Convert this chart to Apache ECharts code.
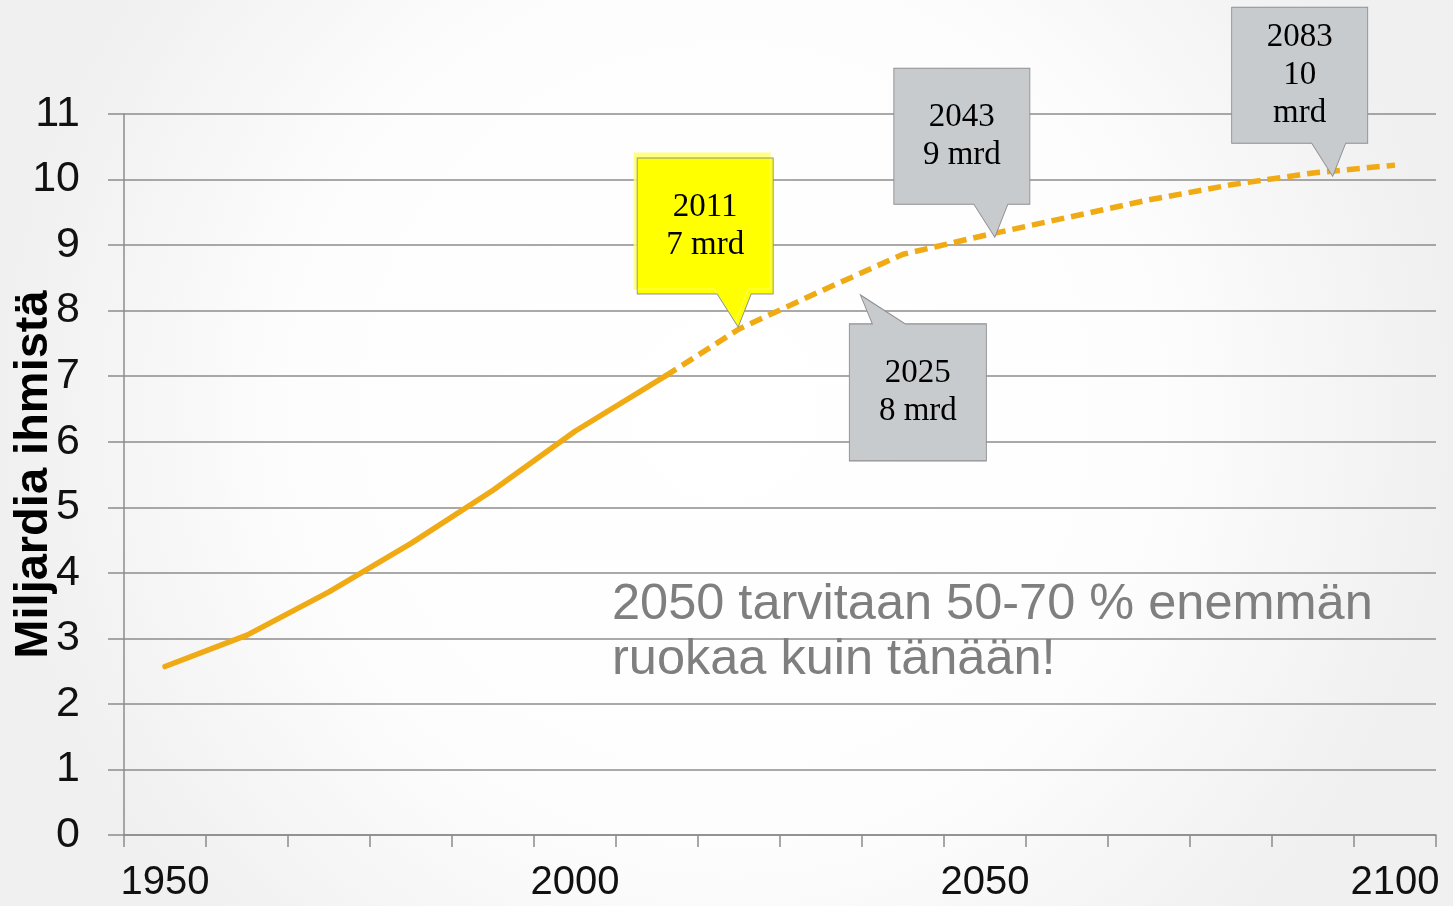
<!DOCTYPE html>
<html>
<head>
<meta charset="utf-8">
<script src="https://cdn.jsdelivr.net/npm/echarts@6/dist/echarts.min.js"></script>
<style>
html,body{margin:0;padding:0;width:1453px;height:906px;overflow:hidden;background:#fff;}
#chart{width:1453px;height:906px;}
</style>
</head>
<body>
<div id="chart"></div>
<script>
// ---- data ----
const histYears = [1950, 1960, 1970, 1980, 1990, 2000, 2011];
const histValues = [2.57, 3.05, 3.71, 4.45, 5.26, 6.16, 7.0];
const projYears = [2011, 2020, 2030, 2040, 2050, 2060, 2070, 2080, 2090, 2100];
const projValues = [7.0, 7.72, 8.3, 8.86, 9.15, 9.42, 9.69, 9.92, 10.1, 10.22];
const xTickValues = [1945, 1955, 1965, 1975, 1985, 1995, 2005, 2015, 2025, 2035, 2045, 2055, 2065, 2075, 2085, 2095, 2105];
const xLabelValues = [1950, 2000, 2050, 2100];
const calloutLabels = ['2011\n7 mrd', '2043\n9 mrd', '2083\n10\nmrd', '2025\n8 mrd'];
const calloutYears = [2019.9, 2051.2, 2092.4, 2034.8];
const calloutValues = [7.75, 9.12, 10.05, 8.24];
const yAxisTitle = 'Miljardia ihmistä';
const noteText = '2050 tarvitaan 50-70 % enemmän\nruokaa kuin tänään!';

// ---- styles ----
const downTail = 'path://M0,0L136,0L136,136L114,136L101,169L80,136L0,136Z';
const upTail = 'path://M0,29L23,29L11,0L56,29L137,29L137,166L0,166Z';
const calloutStyles = [
  {symbol: downTail, size: [136, 169], offset: [-33, -84.5], labelOffset: [0, -16.5], fill: '#FFFF00', shadow: true},
  {symbol: downTail, size: [136, 169], offset: [-33, -84.5], labelOffset: [0, -16.5], fill: '#C8CBCE'},
  {symbol: downTail, size: [136, 169], offset: [-33, -84.5], labelOffset: [0, -16.5], fill: '#C8CBCE'},
  {symbol: upTail, size: [137, 166], offset: [57.5, 83], labelOffset: [0, 14.5], fill: '#C8CBCE'}
];

const lineColor = '#F0AA14';
const gridColor = '#8c8c8c';

const markData = calloutLabels.map(function (lab, i) {
  const s = calloutStyles[i];
  const item = {
    name: lab,
    coord: [calloutYears[i], calloutValues[i]],
    symbol: s.symbol,
    symbolSize: s.size,
    symbolOffset: s.offset,
    itemStyle: {color: s.fill, borderColor: '#8d8f91', borderWidth: 1},
    label: {offset: s.labelOffset}
  };
  if (s.shadow) {
    item.itemStyle.shadowColor = 'rgba(255,255,110,0.85)';
    item.itemStyle.shadowOffsetX = -3;
    item.itemStyle.shadowOffsetY = -5;
    item.itemStyle.shadowBlur = 0;
  }
  return item;
});

const chart = echarts.init(document.getElementById('chart'), null, {renderer: 'canvas'});
chart.setOption({
  backgroundColor: {
    type: 'radial', x: 0.5, y: 0.45, r: 0.8,
    colorStops: [
      {offset: 0, color: '#ffffff'},
      {offset: 0.6, color: '#fdfdfd'},
      {offset: 1, color: '#f0f0f0'}
    ]
  },
  animation: false,
  grid: {left: 124, right: 17, top: 114, bottom: 71, containLabel: false, outerBoundsMode: 'none'},
  xAxis: {
    type: 'value',
    min: 1945,
    max: 2105,
    axisLine: {show: true, onZero: false, lineStyle: {color: gridColor, width: 1.5}},
    axisTick: {show: true, inside: false, length: 12, customValues: xTickValues, lineStyle: {color: gridColor, width: 1.5}},
    axisLabel: {
      customValues: xLabelValues, margin: 28, fontSize: 40, color: '#111',
      fontFamily: 'Liberation Sans, Arial, sans-serif',
      formatter: function (v) { return String(v); }
    },
    splitLine: {show: false}
  },
  yAxis: {
    type: 'value',
    min: 0,
    max: 11,
    interval: 1,
    name: yAxisTitle,
    nameLocation: 'middle',
    nameRotate: 90,
    nameGap: 66,
    nameMoveOverlap: false,
    nameTextStyle: {fontSize: 47, fontWeight: 'bold', color: '#000', fontFamily: 'Liberation Sans, Arial, sans-serif'},
    axisLine: {show: true, lineStyle: {color: gridColor, width: 1.5}},
    axisTick: {show: true, inside: false, length: 16, lineStyle: {color: gridColor, width: 1.5}},
    axisLabel: {margin: 44, fontSize: 43, color: '#111', fontFamily: 'Liberation Sans, Arial, sans-serif'},
    splitLine: {show: true, lineStyle: {color: gridColor, width: 1.5}}
  },
  graphic: [{
    type: 'text',
    left: 612,
    top: 578,
    z: 10,
    style: {
      text: noteText,
      fontSize: 50.5,
      lineHeight: 55,
      fill: '#7f7f7f',
      fontFamily: 'Liberation Sans, Arial, sans-serif'
    }
  }],
  series: [
    {
      type: 'line',
      data: histYears.map(function (y, i) { return [y, histValues[i]]; }),
      showSymbol: false,
      lineStyle: {color: lineColor, width: 5.5, cap: 'round', join: 'round'},
      z: 3
    },
    {
      type: 'line',
      data: projYears.map(function (y, i) { return [y, projValues[i]]; }),
      showSymbol: false,
      lineStyle: {color: lineColor, width: 5.5, type: [13, 7], join: 'round'},
      z: 3,
      markPoint: {
        z: 6,
        label: {
          show: true,
          position: 'inside',
          formatter: '{b}',
          color: '#000',
          fontSize: 33,
          lineHeight: 38,
          fontFamily: 'Liberation Serif, Times New Roman, serif'
        },
        data: markData
      }
    }
  ]
});
</script>
</body>
</html>
